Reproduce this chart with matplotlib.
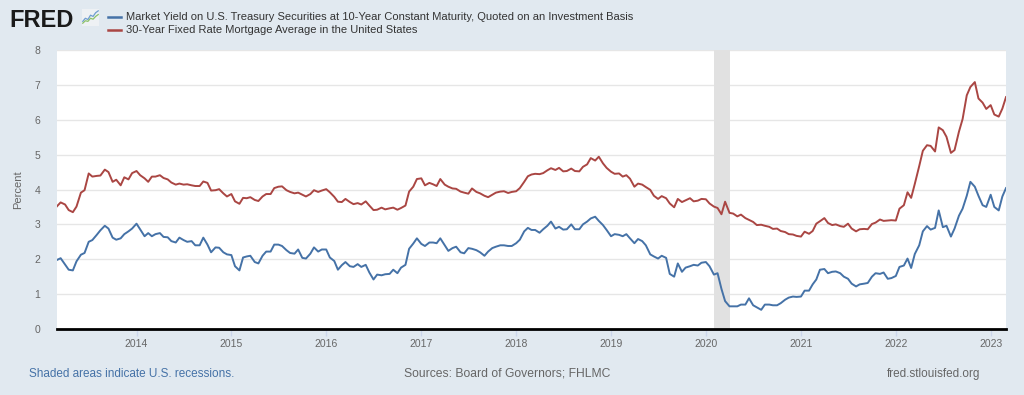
import numpy as np
import pandas as pd
import matplotlib
matplotlib.use("Agg")
from matplotlib import pyplot as plt
from matplotlib.lines import Line2D

plt.rcParams['font.family'] = ['Liberation Sans', 'DejaVu Sans']

# semi-monthly dates (1st and 15th), Mar 2013 .. Mar 2023
dates = pd.date_range("2013-03-01", "2023-03-01", freq="SMS")

# 10-year treasury yield, percent
t2013 = [1.98, 2.03, 1.85, 1.70, 1.68, 1.94, 2.13, 2.18, 2.50, 2.55,
         2.70, 2.83, 2.96, 2.88, 2.62, 2.56, 2.60, 2.72, 2.80, 2.88]
t2014 = [3.02, 2.86, 2.66, 2.75, 2.66, 2.72, 2.75, 2.64, 2.63, 2.52, 2.48, 2.62,
         2.55, 2.50, 2.52, 2.40, 2.40, 2.62, 2.42, 2.20, 2.34, 2.33, 2.20, 2.14]
t2015 = [2.12, 1.80, 1.68, 2.05, 2.08, 2.10, 1.92, 1.88, 2.10, 2.22, 2.22, 2.42,
         2.42, 2.38, 2.26, 2.18, 2.16, 2.28, 2.04, 2.02, 2.16, 2.34, 2.22, 2.28]
t2016 = [2.28, 2.05, 1.95, 1.70, 1.83, 1.92, 1.80, 1.78, 1.86, 1.78, 1.84, 1.62,
         1.42, 1.56, 1.54, 1.57, 1.58, 1.70, 1.60, 1.76, 1.84, 2.30, 2.45, 2.60]
t2017 = [2.44, 2.38, 2.48, 2.48, 2.46, 2.60, 2.40, 2.24, 2.32, 2.36, 2.20, 2.17,
         2.32, 2.30, 2.26, 2.20, 2.10, 2.22, 2.32, 2.36, 2.40, 2.40, 2.38, 2.38]
t2018 = [2.46, 2.56, 2.80, 2.90, 2.84, 2.84, 2.76, 2.86, 2.96, 3.08, 2.88, 2.93,
         2.85, 2.86, 3.00, 2.86, 2.86, 3.00, 3.08, 3.17, 3.22, 3.10, 2.98, 2.84]
t2019 = [2.66, 2.72, 2.70, 2.66, 2.72, 2.60, 2.46, 2.58, 2.52, 2.40, 2.14, 2.08,
         2.02, 2.10, 2.04, 1.58, 1.50, 1.88, 1.64, 1.76, 1.80, 1.84, 1.82, 1.90]
t2020 = [1.92, 1.80, 1.56, 1.60, 1.15, 0.80, 0.65, 0.65, 0.65, 0.70, 0.70, 0.88,
         0.68, 0.62, 0.55, 0.70, 0.70, 0.68, 0.68, 0.74, 0.84, 0.90, 0.93, 0.92]
t2021 = [0.93, 1.10, 1.10, 1.28, 1.42, 1.70, 1.72, 1.60, 1.64, 1.65, 1.60, 1.50,
         1.44, 1.30, 1.22, 1.28, 1.30, 1.32, 1.50, 1.60, 1.58, 1.62, 1.44, 1.46]
t2022 = [1.52, 1.78, 1.82, 2.02, 1.75, 2.15, 2.40, 2.80, 2.95, 2.85, 2.90, 3.40,
         2.92, 2.96, 2.65, 2.88, 3.25, 3.45, 3.82, 4.22, 4.08, 3.82, 3.55, 3.50]
t2023 = [3.85, 3.50, 3.40, 3.80, 4.04]
treasury = t2013 + t2014 + t2015 + t2016 + t2017 + t2018 + t2019 + t2020 + t2021 + t2022 + t2023

# 30-year fixed mortgage rate, percent
m2013 = [3.52, 3.63, 3.57, 3.41, 3.35, 3.51, 3.91, 3.98, 4.46, 4.37,
         4.39, 4.40, 4.57, 4.50, 4.22, 4.28, 4.12, 4.35, 4.29, 4.47]
m2014 = [4.53, 4.41, 4.32, 4.22, 4.37, 4.37, 4.41, 4.33, 4.29, 4.20, 4.14, 4.17,
         4.14, 4.15, 4.12, 4.10, 4.10, 4.23, 4.19, 3.97, 3.98, 4.01, 3.89, 3.80]
m2015 = [3.87, 3.66, 3.59, 3.76, 3.75, 3.78, 3.70, 3.67, 3.80, 3.87, 3.87, 4.04,
         4.08, 4.09, 3.98, 3.93, 3.89, 3.91, 3.85, 3.80, 3.87, 3.98, 3.93, 3.97]
m2016 = [4.01, 3.92, 3.79, 3.65, 3.64, 3.73, 3.64, 3.58, 3.61, 3.57, 3.66, 3.54,
         3.41, 3.42, 3.48, 3.43, 3.46, 3.48, 3.42, 3.47, 3.54, 3.94, 4.08, 4.30]
m2017 = [4.32, 4.12, 4.19, 4.15, 4.10, 4.30, 4.14, 4.08, 4.03, 4.02, 3.94, 3.91,
         3.88, 4.03, 3.93, 3.89, 3.82, 3.78, 3.85, 3.91, 3.94, 3.95, 3.90, 3.93]
m2018 = [3.95, 4.04, 4.22, 4.38, 4.43, 4.45, 4.44, 4.47, 4.55, 4.61, 4.56, 4.62,
         4.52, 4.53, 4.60, 4.53, 4.52, 4.65, 4.72, 4.90, 4.83, 4.94, 4.75, 4.62]
m2019 = [4.51, 4.45, 4.46, 4.37, 4.41, 4.31, 4.08, 4.17, 4.14, 4.07, 3.99, 3.82,
         3.73, 3.81, 3.75, 3.60, 3.49, 3.73, 3.64, 3.69, 3.75, 3.66, 3.68, 3.73]
m2020 = [3.72, 3.60, 3.51, 3.47, 3.29, 3.65, 3.33, 3.31, 3.23, 3.28, 3.18, 3.13,
         3.07, 2.98, 2.99, 2.96, 2.93, 2.87, 2.88, 2.81, 2.78, 2.72, 2.71, 2.67]
m2021 = [2.65, 2.79, 2.73, 2.81, 3.02, 3.09, 3.18, 3.04, 2.98, 3.00, 2.95, 2.93,
         3.02, 2.88, 2.80, 2.86, 2.87, 2.86, 3.01, 3.05, 3.14, 3.10, 3.11, 3.12]
m2022 = [3.11, 3.45, 3.55, 3.92, 3.76, 4.16, 4.67, 5.11, 5.27, 5.25, 5.09, 5.78,
         5.70, 5.51, 5.05, 5.13, 5.66, 6.02, 6.70, 6.94, 7.08, 6.61, 6.49, 6.31]
m2023 = [6.42, 6.15, 6.09, 6.32, 6.65]
mortgage = m2013 + m2014 + m2015 + m2016 + m2017 + m2018 + m2019 + m2020 + m2021 + m2022 + m2023

recession_start = pd.Timestamp("2020-02-01")
recession_end = pd.Timestamp("2020-04-01")

years = [str(y) for y in range(2014, 2024)]

bg = "#e1e9f0"
blue = "#4572a7"
red = "#aa4643"
grey = "#666666"

fig = plt.figure(figsize=(10.24, 3.95), dpi=100, facecolor=bg)
ax = fig.add_axes([57 / 1024, 1 - 329 / 395, (1006 - 57) / 1024, (329 - 50) / 395])
ax.set_facecolor("white")

ax.axvspan(recession_start, recession_end, color="#e1e1e1", lw=0, zorder=1)
ax.plot(dates, treasury, color=blue, lw=1.4, zorder=3)
ax.plot(dates, mortgage, color=red, lw=1.4, zorder=3)

ax.set_xlim(dates[0], dates[-1])
ax.set_ylim(0, 8)
ax.set_yticks(range(0, 9))
ax.yaxis.grid(True, color="#e6e6e6", lw=1)
ax.set_axisbelow(True)
ax.tick_params(axis="y", length=0, labelsize=7.5, labelcolor=grey, pad=12)

ax.set_xticks([pd.Timestamp(y + "-01-01") for y in years])
ax.set_xticklabels(years)
ax.tick_params(axis="x", length=5, width=1, color="#ccd6eb", labelsize=7.5,
               labelcolor=grey, pad=2)

for s in ["top", "right", "left"]:
    ax.spines[s].set_visible(False)
ax.spines["bottom"].set_color("black")
ax.spines["bottom"].set_linewidth(2)

ax.set_ylabel("Percent", fontsize=8, color=grey, labelpad=8)

# header: logo + legend
fig.text(9 / 1024, 1 - 27 / 395, "FRED", fontsize=17, fontweight="bold",
         color="#1a1a1a", va="baseline", ha="left")
icon = fig.add_axes([82 / 1024, 1 - 26 / 395, 17 / 1024, 17 / 395])
icon.set_facecolor("#eef1f4")
icon.plot([0, 1, 2, 3, 4, 5, 6], [1, 2, 1.6, 3, 2.6, 3.8, 4.4], color="#6f9dd0", lw=0.9)
icon.plot([0, 1, 2, 3, 4, 5, 6], [0.4, 1.2, 1.0, 2.0, 1.7, 2.6, 3.2], color="#8cc269", lw=0.9)
icon.set_xlim(-0.3, 6.3)
icon.set_ylim(-0.5, 5)
icon.set_xticks([])
icon.set_yticks([])
for s in icon.spines.values():
    s.set_visible(False)

fig.add_artist(Line2D([108 / 1024, 121 / 1024], [1 - 17 / 395, 1 - 17 / 395],
                      color=blue, lw=1.8))
fig.add_artist(Line2D([108 / 1024, 121 / 1024], [1 - 30 / 395, 1 - 30 / 395],
                      color=red, lw=1.8))
fig.text(126 / 1024, 1 - 17 / 395,
         "Market Yield on U.S. Treasury Securities at 10-Year Constant Maturity, Quoted on an Investment Basis",
         fontsize=8, color="#333333", va="center", ha="left")
fig.text(126 / 1024, 1 - 30 / 395, "30-Year Fixed Rate Mortgage Average in the United States",
         fontsize=8, color="#333333", va="center", ha="left")

# footer
fy = 1 - 377 / 395
fig.text(29 / 1024, fy, "Shaded areas indicate U.S. recessions.",
         fontsize=8.5, color=blue, va="baseline", ha="left")
fig.text(404 / 1024, fy, "Sources: Board of Governors; FHLMC",
         fontsize=8.7, color=grey, va="baseline", ha="left")
fig.text(980 / 1024, fy, "fred.stlouisfed.org",
         fontsize=8.5, color=grey, va="baseline", ha="right")

plt.savefig("out.png", dpi=100, facecolor=bg)
plt.close()
